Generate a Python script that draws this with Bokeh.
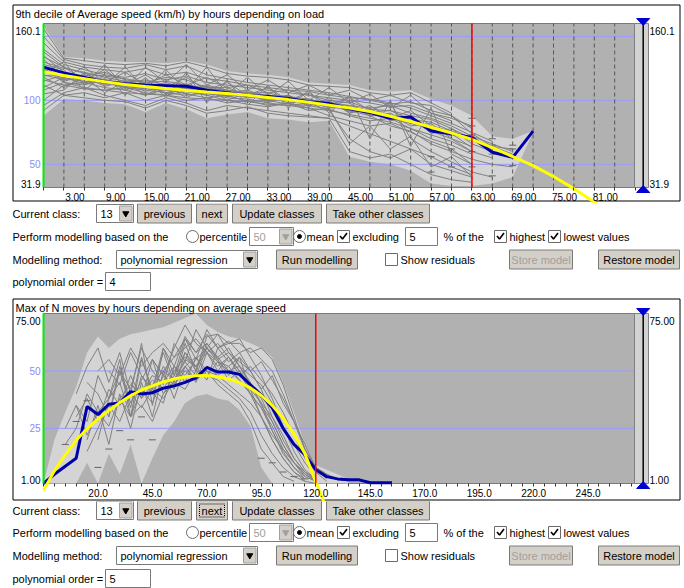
from bokeh.plotting import figure
from bokeh.models import (Range1d, FixedTicker, PrintfTickFormatter, CustomJSTickFormatter, LinearAxis,
                          ColumnDataSource)
from bokeh.layouts import column
from bokeh.embed import file_html
from bokeh.resources import INLINE
from bokeh.core.properties import value

FONT = "Liberation Sans"

# ---------------- Chart 1 data ----------------
C1_TITLE = "9th decile of Average speed (km/h) by hours depending on load"
C1_X = [0, 3, 6, 9, 12, 15, 18, 21, 24, 27, 30, 33, 36, 39, 42, 45, 48, 51, 54, 57, 60, 63, 66, 69, 72]
C1_UPPER = [158, 134, 133, 131, 130, 130, 129, 131, 128, 123, 121, 120, 118, 114, 113, 112, 108, 107, 108, 101, 96, 88, 72, 70, 76]
C1_LOWER = [88, 101, 100, 98, 97, 91, 98, 93, 86, 89, 91, 86, 85, 83, 84, 56, 52, 50, 45, 35, 33, 33, 35, 40, 75]
C1_CLASS = [126, 121.5, 118, 114.5, 113, 112, 111.5, 111, 108, 106, 104, 103, 101.5, 99, 97.5, 93.5, 90.5, 86, 87, 76, 74, 71, 59.5, 55.5, 76]
C1_FIT_X = [0, 3, 6, 9, 12, 15, 18, 21, 24, 27, 30, 33, 36, 39, 42, 45, 48, 51, 54, 57, 60, 63, 66, 69, 72, 75, 78, 81, 84]
C1_FIT = [122.5, 119.5, 117, 114.5, 112.5, 110.8, 109.2, 107.8, 106.5, 105.3, 104, 102.3, 100.6, 98.6, 96.3, 94,
          91.3, 87.6, 83.5, 79, 74.5, 69.5, 63, 56, 49, 40.5, 31, 20.5, 8]
C1_GRAY_STEP = 3
C1_GRAY = [
    [140, 128, 124, 120, 118, 121, 116, 119, 114, 112, 110, 108, 106, 104, 102, 100, 98, 95, 96, 90, 86, 80],
    [115, 120, 117, 113, 112, 110, 114, 109, 111, 107, 103, 104, 100, 101, 97, 99, 93, 92, 88, 85, 78, 70, 62],
    [130, 125, 122, 118, 115, 112, 110, 113, 108, 106, 108, 102, 103, 99, 96, 92, 88, 90, 82, 80, 72],
    [100, 112, 114, 110, 108, 104, 109, 105, 102, 104, 99, 100, 97, 96, 93, 88, 84, 86, 78, 70, 65, 58],
    [145, 130, 126, 124, 122, 125, 120, 122, 117, 115, 112, 110, 108, 107, 104, 102, 101, 98, 94, 88, 82, 75, 68],
    [110, 118, 113, 115, 110, 108, 106, 104, 106, 102, 101, 98, 96, 98, 92, 70, 60, 55, 62, 50, 45, 40],
    [120, 116, 120, 116, 114, 116, 112, 110, 112, 108, 106, 106, 102, 100, 98, 96, 94, 96, 90, 86, 80, 72, 66, 60],
    [135, 122, 119, 122, 116, 114, 118, 116, 110, 110, 104, 102, 104, 97, 99, 94, 90, 88, 84, 76, 70, 60, 55],
    [125, 114, 110, 108, 110, 106, 104, 107, 104, 100, 97, 95, 98, 94, 88, 84, 80, 82, 75, 68, 62, 50],
    [150, 132, 128, 126, 125, 128, 124, 127, 120, 117, 114, 112, 110, 108, 106, 103, 100, 97, 99, 92, 88, 78],
    [156, 133, 131, 129, 128, 129, 127, 130, 126, 121, 119, 118, 116, 112, 111, 110, 106, 104, 106, 98, 90],
    [92, 104, 102, 100, 99, 94, 100, 96, 90, 92, 95, 90, 88, 87, 86, 60, 55, 58, 50, 42, 38, 36],
    [118, 110, 118, 106, 115, 104, 112, 102, 110, 100, 106, 98, 104, 95, 102, 90, 96, 86, 92, 80, 76, 68],
    [128, 124, 108, 120, 104, 118, 102, 122, 98, 116, 96, 112, 94, 108, 90, 104, 70, 100, 64, 94, 58, 50],
    [105, 108, 122, 112, 126, 109, 124, 108, 126, 105, 118, 104, 115, 100, 110, 98, 105, 94, 104, 90, 84],
    [138, 126, 116, 124, 112, 120, 110, 118, 108, 114, 104, 110, 100, 106, 96, 102, 92, 98, 70, 60, 52, 44, 40],
    [96, 106, 110, 104, 100, 96, 102, 98, 92, 96, 94, 92, 90, 88, 86, 80, 74, 68, 62, 56, 48, 42],
    [132, 118, 126, 114, 122, 112, 120, 112, 118, 110, 112, 106, 108, 104, 100, 98, 88, 80, 76, 66, 60, 54, 50, 48],
    [122, 130, 112, 128, 110, 126, 114, 128, 112, 120, 108, 116, 106, 112, 104, 108, 100, 104, 98, 96, 88, 74, 64, 62],
    [112, 104, 106, 102, 106, 100, 104, 100, 102, 98, 100, 96, 98, 92, 94, 66, 80, 62, 72, 48, 56, 40],
    [124, 117, 115, 113, 111, 109, 108, 107, 106, 104, 103, 101, 100, 98, 95, 93, 90, 86, 82, 78, 72],
    [119, 121, 114, 116, 110, 112, 106, 110, 104, 106, 102, 103, 98, 100, 94, 95, 88, 89, 80, 82, 70, 64],
    [127, 115, 119, 111, 115, 107, 113, 105, 111, 103, 107, 99, 104, 96, 100, 90, 94, 84, 88, 74, 78, 66, 60],
    [108, 114, 112, 117, 108, 113, 105, 109, 107, 103, 105, 100, 101, 97, 98, 91, 92, 85, 84, 76, 74, 63],
    [134, 126, 121, 119, 117, 114, 115, 112, 109, 108, 106, 104, 103, 101, 97, 96, 91, 92, 85, 83, 76, 70, 64, 58],
    [116, 112, 109, 108, 106, 105, 104, 102, 101, 100, 99, 97, 96, 94, 92, 89, 86, 83, 78, 73, 68, 60],
]
C1_MARK_X = [57, 57, 60, 60, 63, 63, 63, 63, 63, 66, 66, 66, 66, 69, 69, 69, 69]
C1_MARK_Y = [56, 44, 62, 48, 86, 80, 73, 60, 48, 70, 65, 58, 41, 65, 62, 57, 49]
C1_CUT = 63
C1_XLABEL_TICKS = [3, 9, 15, 21, 27, 33, 39, 45, 51, 57, 63, 69, 75, 81]
C1_XMINOR_TICKS = [0, 3, 6, 9, 12, 15, 18, 21, 24, 27, 30, 33, 36, 39, 42, 45, 48, 51, 54, 57, 60, 63, 66, 69, 72, 75, 78, 81, 84, 87]
C1_VGRID = [3, 6, 9, 12, 15, 18, 21, 24, 27, 30, 33, 36, 39, 42, 45, 48, 51, 54, 57, 60, 63, 66, 69, 72, 75, 78, 81, 84]
C1_YTICKS = [50, 100]
C1_YGRID = [50, 100, 150]
C1_YMIN, C1_YMAX = 31.9, 160.1
C1_YMIN_TXT, C1_YMAX_TXT = "31.9", "160.1"

# ---------------- Chart 2 data ----------------
C2_TITLE = "Max of N moves by hours depending on average speed"
C2_X = [0, 5, 10, 15, 20, 25, 30, 35, 40, 45, 50, 55, 60, 65, 70, 75, 80, 85, 90, 95, 100, 105, 110, 115, 120, 125, 130, 135, 140]
C2_UPPER = [1, 20, 32, 43, 58, 65, 60, 64, 66, 67, 68, 69, 71, 73, 75, 70, 67, 65, 64, 62, 60, 56, 45, 32, 18, 9, 7, 5, 3]
C2_LOWER = [1, 1, 1, 1, 10, 1, 14, 5, 18, 1, 12, 22, 28, 36, 39, 40, 38, 37, 33, 26, 8, 1, 1, 1, 1, 1, 1, 1, 1]
C2_CLASS_X = [0, 5, 10, 15, 20, 25, 30, 35, 40, 45, 50, 55, 60, 65, 70, 75, 80, 85, 90, 95, 100, 105, 110, 115, 120,
              125, 130, 135, 140, 145, 150, 155, 160]
C2_CLASS = [1, 5, 8.5, 12, 34.5, 31, 35.5, 36, 41, 40, 40.5, 42.5, 43.5, 45, 47, 51.5, 49.5, 49.5, 48.5, 44, 39.5, 34,
            25, 18, 13.5, 7, 4, 3, 2.6, 2.6, 1.3, 1.3, 1.3]
C2_FIT_X = [0, 5, 10, 15, 20, 25, 30, 35, 40, 45, 50, 55, 60, 65, 70, 75, 80, 85, 90, 95, 100, 105, 110, 115, 120, 125, 130]
C2_FIT = [-2, 6.5, 13.5, 19.8, 24.8, 29, 32.8, 36.2, 39.2, 41.7, 43.5, 45.2, 46.5, 47.4, 47.9, 48, 47.5, 46.5, 44.9,
          42.6, 39.3, 35, 29.5, 22.5, 14, 1.8, -10]
C2_GRAY_STEP = 5
C2_GRAY_START = [15, 20, 10, 25, 20, 30, 40, 50, 15, 20, 15, 30, 10, 40, 55, 45, 35, 60, 25]
C2_GRAY = [
    [30, 38, 28, 42, 35, 48, 38, 44, 50, 46, 55, 52, 58, 54, 50, 52, 45, 35, 28, 18, 10, 5, 2],
    [45, 40, 30, 52, 36, 46, 55, 40, 48, 58, 50, 62, 55, 48, 56, 42, 30, 20, 12, 6, 3],
    [25, 35, 22, 32, 26, 38, 30, 35, 28, 40, 45, 42, 50, 48, 46, 42, 38, 32, 22, 14, 8, 4, 2, 1],
    [20, 38, 45, 30, 55, 42, 60, 52, 65, 58, 62, 56, 60, 52, 44, 36, 24, 15, 8, 3],
    [15, 25, 35, 28, 40, 34, 42, 38, 46, 52, 56, 50, 48, 52, 46, 40, 34, 26, 16, 10, 5, 2],
    [50, 44, 58, 48, 40, 52, 46, 54, 48, 60, 66, 58, 54, 50, 42, 30, 22, 12, 6, 3],
    [30, 42, 36, 48, 44, 52, 46, 50, 44, 40, 36, 28, 16, 10, 4, 2],
    [55, 48, 60, 70, 62, 58, 52, 56, 50, 44, 38, 28, 18, 10, 4],
    [40, 52, 60, 45, 58, 40, 62, 35, 60, 48, 64, 55, 68, 60, 63, 58, 60, 55, 50, 40, 28, 16, 8, 3],
    [20, 35, 18, 40, 25, 45, 30, 50, 38, 52, 45, 58, 50, 56, 48, 52, 46, 40, 32, 22, 12, 6, 2],
    [35, 28, 48, 38, 55, 30, 48, 42, 58, 45, 62, 50, 65, 66, 62, 64, 56, 48, 38, 26, 15, 7, 3],
    [30, 50, 42, 60, 50, 44, 62, 54, 68, 60, 56, 50, 46, 40, 34, 24, 14, 8, 4, 2],
    [18, 25, 40, 32, 38, 50, 34, 56, 40, 36, 52, 45, 56, 48, 54, 46, 50, 42, 36, 30, 20, 12, 6, 2],
    [45, 38, 55, 48, 42, 58, 52, 46, 60, 54, 58, 50, 42, 48, 36, 28, 18, 8, 5],
    [50, 56, 60, 64, 58, 62, 56, 50, 40, 30, 20, 12, 6, 2],
    [40, 46, 42, 50, 56, 52, 60, 55, 58, 52, 48, 44, 36, 26, 18, 10, 4],
    [38, 44, 40, 48, 45, 52, 48, 55, 60, 54, 52, 56, 50, 54, 46, 38, 28, 16, 8, 5, 3],
    [44, 50, 46, 52, 48, 44, 40, 36, 30, 22, 16, 10, 6, 3],
    [50, 55, 48, 60, 52, 58, 62, 56, 64, 58, 66, 60, 62, 62, 58, 60, 55, 44, 30, 16, 8, 5, 3, 2],
]
C2_MARK_X = [10, 15, 20, 25, 30, 35, 40, 45, 50, 100, 105, 110, 115, 120]
C2_MARK_Y = [18, 28, 37, 8, 16, 24, 20, 30, 20, 12, 10, 6, 4, 3]
C2_CUT = 125
C2_XLABEL_TICKS = [20, 45, 70, 95, 120, 145, 170, 195, 220, 245]
C2_XMINOR_TICKS = list(range(0, 275, 5))
C2_YTICKS = [25, 50]
C2_YGRID = [25, 50]
C2_YMIN, C2_YMAX = 1.0, 75.0
C2_YMIN_TXT, C2_YMAX_TXT = "1.00", "75.00"

PLOT_BG = "#b1b1b1"
ENV = "#d4d4d4"
GRAY = "#808080"
BLUE = "#0000a8"
YELLOW = "#ffff00"
GRID = "#9a9aff"

PAGE_W = 684


def make_chart(page_top, page_bot, box_bot, plot_top, plot_bot, px_per_x, title, y0, y1, xlabels, xticks,
               xfmt_digits, yticks, ygrid, lo_txt, hi_txt, vgrid, env_x, upper, lower, gray_lines,
               mark_x, mark_y, cls_x, cls_y, fit_x, fit_y, cut):
    plot_left, plot_right, slider_right, knob = 43, 634, 648, 642.7
    sy = (plot_bot - plot_top) / (y1 - y0)

    def X(px):
        return (px - plot_left) / px_per_x

    def Y(py):
        return y1 - (py - plot_top) / sy

    p = figure(width=PAGE_W, height=page_bot - page_top, x_range=Range1d(X(0), X(PAGE_W)),
               y_range=Range1d(Y(page_bot), Y(page_top)), x_axis_location=None, y_axis_location=None,
               output_backend="svg", toolbar_location=None, min_border=0)
    p.background_fill_color = "white"
    p.border_fill_color = "white"
    p.outline_line_color = None
    p.grid.visible = False

    # panel frame
    p.quad(left=X(12.5), right=X(679.5), top=Y(page_top + 4.5), bottom=Y(box_bot),
           fill_color=None, line_color="#000000", line_width=1)
    # plot area
    p.quad(left=0, right=X(plot_right), bottom=y0, top=y1, fill_color=PLOT_BG, line_color="#7a7a7a")
    # envelope of all classes
    p.varea(x=env_x, y1=lower, y2=upper, fill_color=ENV)
    # grid
    p.segment(x0=[0] * len(ygrid), x1=[X(plot_right)] * len(ygrid), y0=ygrid, y1=ygrid,
              line_color=GRID, line_width=1)
    if vgrid:
        p.segment(x0=vgrid, x1=vgrid, y0=[y0] * len(vgrid), y1=[y1] * len(vgrid),
                  line_color="#555555", line_dash="4 3", line_width=1)
    # class lines
    for xs, ys in gray_lines:
        p.line(xs, ys, line_color=GRAY, line_width=1)
    p.scatter(mark_x, mark_y, marker="dash", size=7, line_color="#666666", line_width=1)
    p.line(cls_x, cls_y, line_color=BLUE, line_width=3)
    p.line(fit_x, fit_y, line_color=YELLOW, line_width=3)
    # limits
    p.segment(x0=[0], x1=[0], y0=[y0], y1=[y1], line_color="#00ee00", line_width=2)
    p.segment(x0=[cut], x1=[cut], y0=[y0], y1=[y1], line_color="#ff0000", line_width=1.5)

    # range slider on the right
    p.quad(left=X(plot_right), right=X(slider_right), bottom=y0, top=y1, fill_color="#d2d2d2", line_color="#808080")
    p.segment(x0=[X(knob)], x1=[X(knob)], y0=[y0], y1=[y1], line_color="#000000", line_width=1.5)
    p.patches(xs=[[X(knob - 6.5), X(knob + 6.5), X(knob)], [X(knob - 6.5), X(knob + 6.5), X(knob)]],
              ys=[[Y(plot_top - 5), Y(plot_top - 5), Y(plot_top + 2)], [Y(plot_bot + 5), Y(plot_bot + 5), Y(plot_bot - 2)]],
              fill_color="#0000d0", line_color="#0000d0")

    # axes
    off = 11 / px_per_x
    xa = LinearAxis(fixed_location=y0)
    xa.ticker = FixedTicker(ticks=[t + off for t in xlabels], minor_ticks=xticks)
    xa.formatter = CustomJSTickFormatter(code="return (tick - %r).toFixed(%d)" % (off, xfmt_digits))
    xa.axis_line_color = None
    xa.major_tick_in = 0
    xa.major_tick_out = 0
    xa.minor_tick_in = 0
    xa.minor_tick_out = 3
    xa.minor_tick_line_color = "#333333"
    xa.major_label_standoff = 2
    xa.major_label_text_font = FONT
    xa.major_label_text_font_size = "10px"
    xa.major_label_text_color = "#000000"
    p.add_layout(xa, "below")

    ya = LinearAxis(fixed_location=0)
    ya.ticker = FixedTicker(ticks=yticks)
    ya.formatter = PrintfTickFormatter(format="%d")
    ya.axis_line_color = None
    ya.major_tick_in = 0
    ya.major_tick_out = 0
    ya.minor_tick_in = 0
    ya.minor_tick_out = 0
    ya.major_label_standoff = 3
    ya.major_label_text_font = FONT
    ya.major_label_text_font_size = "10px"
    ya.major_label_text_color = "#8c8cf2"
    p.add_layout(ya, "left")

    # extreme values and title
    p.text(x=[X(40), X(40), X(slider_right + 1), X(slider_right + 1)],
           y=[Y(plot_top + 7), Y(plot_bot - 4), Y(plot_top + 7), Y(plot_bot - 4)],
           text=[hi_txt, lo_txt, hi_txt, lo_txt], text_align=["right", "right", "left", "left"],
           text_baseline="middle", text_font=value(FONT), text_font_size="10px", text_color="#000000")
    p.text(x=[X(15)], y=[Y(page_top + 13.5)], text=[title], text_align="left", text_baseline="middle",
           text_font=value(FONT), text_font_size="11px", text_color="#000000")
    return p


def gray1():
    return [([i * C1_GRAY_STEP for i in range(len(ys))], ys) for ys in C1_GRAY]


def gray2():
    return [([s + i * C2_GRAY_STEP for i in range(len(ys))], ys) for s, ys in zip(C2_GRAY_START, C2_GRAY)]


p1 = make_chart(0, 203, 200.5, 23, 187, 6.8, C1_TITLE, C1_YMIN, C1_YMAX, C1_XLABEL_TICKS, C1_XMINOR_TICKS, 2,
                C1_YTICKS, C1_YGRID, C1_YMIN_TXT, C1_YMAX_TXT, C1_VGRID,
                C1_X, C1_UPPER, C1_LOWER, gray1(), C1_MARK_X, C1_MARK_Y, C1_X, C1_CLASS, C1_FIT_X, C1_FIT, C1_CUT)
p2 = make_chart(294, 501, 499.5, 313, 483, 2.178, C2_TITLE, C2_YMIN, C2_YMAX, C2_XLABEL_TICKS, C2_XMINOR_TICKS, 1,
                C2_YTICKS, C2_YGRID, C2_YMIN_TXT, C2_YMAX_TXT, None,
                C2_X, C2_UPPER, C2_LOWER, gray2(), C2_MARK_X, C2_MARK_Y, C2_CLASS_X, C2_CLASS, C2_FIT_X, C2_FIT,
                C2_CUT)


# ---------------- control panels ----------------
def controls(y_top, y_bot, rows, order_value, focus_next):
    p = figure(width=PAGE_W, height=y_bot - y_top, x_range=Range1d(0, PAGE_W), y_range=Range1d(y_bot, y_top),
               x_axis_location=None, y_axis_location=None, toolbar_location=None, output_backend="svg",
               min_border=0)
    p.grid.visible = False
    p.outline_line_color = None
    p.background_fill_color = "white"
    p.border_fill_color = "white"

    Q = dict(left=[], right=[], top=[], bottom=[], fill=[], line=[])
    T = dict(x=[], y=[], text=[], color=[], align=[])
    M = dict(x=[], y=[], color=[])
    R = dict(x=[], y=[], sel=[])
    CK = dict(xs=[], ys=[])
    F = dict(left=[], right=[], top=[], bottom=[])

    def quad(x0, x1, yt, yb, fill, line):
        Q["left"].append(x0); Q["right"].append(x1); Q["top"].append(yt); Q["bottom"].append(yb)
        Q["fill"].append(fill); Q["line"].append(line)

    def text(x, y, s, color="#000000", align="left"):
        T["x"].append(x); T["y"].append(y); T["text"].append(s); T["color"].append(color); T["align"].append(align)

    def button(x0, x1, yc, s, disabled=False, focus=False):
        quad(x0, x1, yc - 9.5, yc + 9.5, "#d4d0c8", "#7a7a7a")
        text((x0 + x1) / 2, yc, s, "#a0a0a0" if disabled else "#000000", "center")
        if focus:
            F["left"].append(x0 + 3); F["right"].append(x1 - 3); F["top"].append(yc - 6.5); F["bottom"].append(yc + 6.5)

    def combo(x0, x1, yc, s, disabled=False):
        quad(x0, x1, yc - 9, yc + 9, "#ffffff", "#7a7a7a")
        quad(x1 - 14, x1 - 1.5, yc - 7.5, yc + 7.5, "#d4d0c8", "#a0a0a0")
        M["x"].append(x1 - 7.75); M["y"].append(yc); M["color"].append("#a0a0a0" if disabled else "#000000")
        text(x0 + 4, yc, s, "#a0a0a0" if disabled else "#000000")

    def field(x0, x1, yc, s):
        quad(x0, x1, yc - 9, yc + 9, "#ffffff", "#7a7a7a")
        text(x0 + 4, yc, s)

    def check(x0, yc, s, on):
        quad(x0, x0 + 12, yc - 6, yc + 6, "#ffffff", "#6a6a6a")
        if on:
            CK["xs"].append([x0 + 2.5, x0 + 5, x0 + 9.5]); CK["ys"].append([yc - 0.5, yc + 2.5, yc - 3.5])
        text(x0 + 15, yc, s)

    def radio(cx, yc, s, on):
        R["x"].append(cx); R["y"].append(yc); R["sel"].append(on)
        text(cx + 7, yc, s)

    r1, r2, r3, r4 = rows
    text(12, r1, "Current class:")
    combo(96, 133, r1, "13")
    button(137, 191, r1, "previous")
    button(196, 227, r1, "next", focus=focus_next)
    button(232, 321, r1, "Update classes")
    button(326, 429, r1, "Take other classes")

    text(12, r2, "Perform modelling based on the")
    radio(192, r2, "percentile", False)
    combo(249, 293, r2, "50", disabled=True)
    radio(299, r2, "mean", True)
    check(337, r2, "excluding", True)
    field(405, 437, r2, "5")
    text(443, r2, "% of the")
    check(494, r2, "highest", True)
    check(548, r2, "lowest values", True)

    text(12, r3, "Modelling method:")
    combo(116, 257, r3, "polynomial regression")
    button(276, 357, r3, "Run modelling")
    check(385, r3, "Show residuals", False)
    button(509, 572, r3, "Store model", disabled=True)
    button(598, 679, r3, "Restore model")

    text(12, r4, "polynomial order =")
    field(105, 150, r4, order_value)

    p.quad(left="left", right="right", top="top", bottom="bottom", fill_color="fill", line_color="line",
           source=ColumnDataSource(Q))
    p.quad(left="left", right="right", top="top", bottom="bottom", fill_color=None, line_color="#000000",
           line_dash="1 1", source=ColumnDataSource(F))
    p.scatter(x="x", y="y", marker="inverted_triangle", size=6, fill_color="color", line_color="color",
              source=ColumnDataSource(M))
    p.scatter(x="x", y="y", marker="circle", size=12, fill_color="#ffffff", line_color="#6a6a6a",
              source=ColumnDataSource(dict(x=R["x"], y=R["y"])))
    sx = [x for x, s in zip(R["x"], R["sel"]) if s]
    sy = [y for y, s in zip(R["y"], R["sel"]) if s]
    p.scatter(x=sx, y=sy, marker="circle", size=4, fill_color="#000000", line_color="#000000")
    p.multi_line(xs="xs", ys="ys", line_color="#000000", line_width=1.6, source=ColumnDataSource(CK))
    p.text(x="x", y="y", text="text", text_color="color", text_align="align", text_baseline="middle",
           text_font=value(FONT), text_font_size="11px", source=ColumnDataSource(T))
    return p


c1 = controls(203, 294, (213, 236, 259, 281), "4", False)
c2 = controls(501, 588, (510, 532, 555, 578), "5", True)

layout = column(p1, c1, p2, c2, spacing=0)
open("out.html", "w").write(file_html(layout, INLINE))
